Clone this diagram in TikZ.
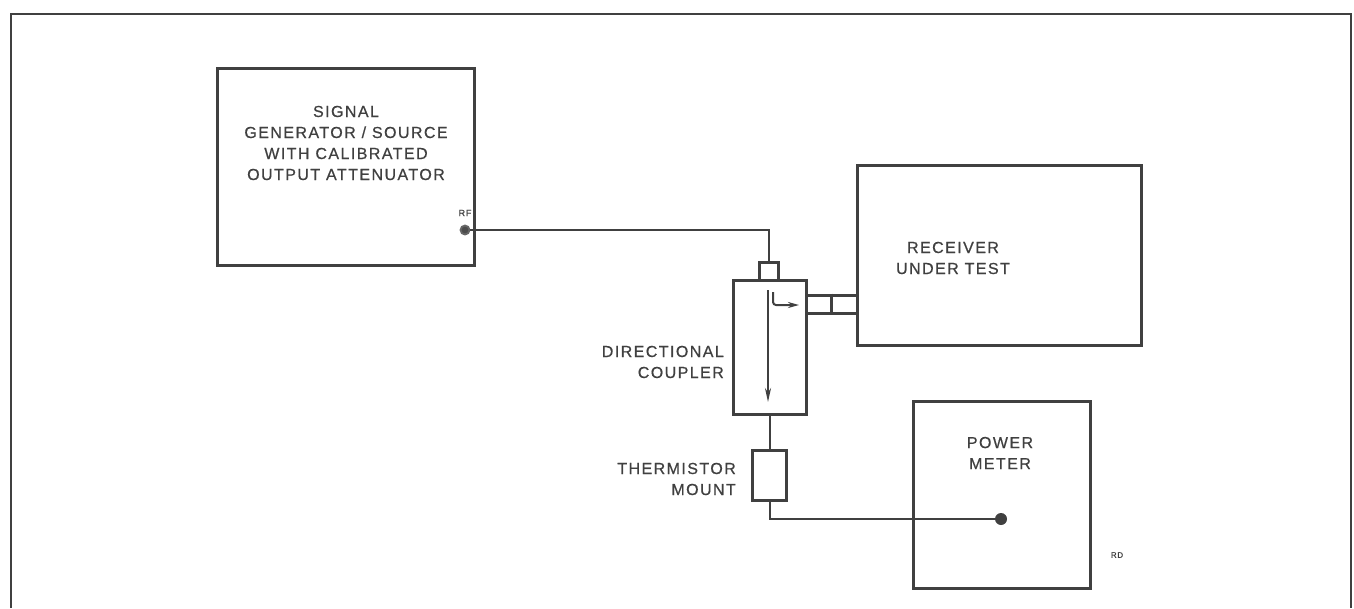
\documentclass[tikz,border=0pt]{standalone}
\usepackage{fontspec}
\setmainfont[LetterSpace=9,FakeBold=0.6]{Liberation Sans}
\usetikzlibrary{arrows.meta}
\begin{document}
\begin{tikzpicture}[x=1pt,y=-1pt,
  ln/.style={draw=black!75,line width=3pt},
  thin/.style={draw=black!75,line width=2pt},
  lbl/.style={font=\fontsize{16}{21}\selectfont,text=black!75,inner sep=0pt},
  dotc/.style={circle,fill=black!75,inner sep=0pt,minimum size=12pt}]
\useasboundingbox (0,0) rectangle (1354,608);
\fill[white] (0,0) rectangle (1354,608);
% outer frame (open at bottom)
\draw[ln,line width=2.6pt] (11,608) -- (11,14) -- (1351,14) -- (1351,608);
% boxes
\node[ln,minimum width=257pt,minimum height=197pt,inner sep=0pt] (sg) at (345.5,166.5) {};
\node[ln,minimum width=284pt,minimum height=180pt,inner sep=0pt] (rx) at (999,255) {};
\node[ln,minimum width=177pt,minimum height=187pt,inner sep=0pt] (pm) at (1001.5,494.5) {};
\node[ln,minimum width=73pt,minimum height=134pt,inner sep=0pt] (dc) at (769.5,347) {};
\node[ln,minimum width=19pt,minimum height=18pt,inner sep=0pt] (cp) at (768.5,271) {};
\node[ln,minimum width=34pt,minimum height=50pt,inner sep=0pt] (th) at (769.5,475) {};
% side connector
\node[ln,minimum width=51pt,minimum height=18pt,inner sep=0pt] (sc) at (831.5,304) {};
\draw[ln] (sc.north) -- (sc.south);
% texts
\node[lbl,align=center] (sgt) at (346,143) {SIGNAL\\GENERATOR / SOURCE\\WITH CALIBRATED\\OUTPUT ATTENUATOR};
\node[lbl,align=center] (rxt) at (953,258) {RECEIVER\\UNDER TEST};
\node[lbl,align=center] (pmt) at (1000,453) {POWER\\METER};
\node[lbl,align=right,anchor=east] (dct) at (724,362) {DIRECTIONAL\\COUPLER};
\node[lbl,align=right,anchor=east] (tht) at (736,479) {THERMISTOR\\MOUNT};
\node[lbl,font=\fontsize{9}{10}\selectfont] (rf) at (465,213) {RF};
\node[lbl,font=\fontsize{8}{10}\selectfont] (rd) at (1117,555) {RD};
% RF port
\node[circle,draw=black!60,line width=1.8pt,fill=black!70,inner sep=0pt,minimum size=9pt] (rfp) at (465,230) {};
\draw[thin] (rfp.east) -| (cp.north);
% coupler internal arrows
\coordinate (a1) at (768,290);
\coordinate (a2) at (768,402);
\draw[thin,-{Stealth[length=14pt,width=6pt]}] (a1) -- (a2);
\coordinate (b1) at (773,292);
\coordinate (b2) at (799,305);
\draw[thin,-{Stealth[length=11pt,width=6pt]},rounded corners=3pt] (b1) |- (b2);
% thermistor links
\draw[thin] (dc.south) -- (th.north);
\node[dotc] (pmd) at (1001,519) {};
\draw[thin] (th.south) |- (pmd.center);
\end{tikzpicture}
\end{document}
